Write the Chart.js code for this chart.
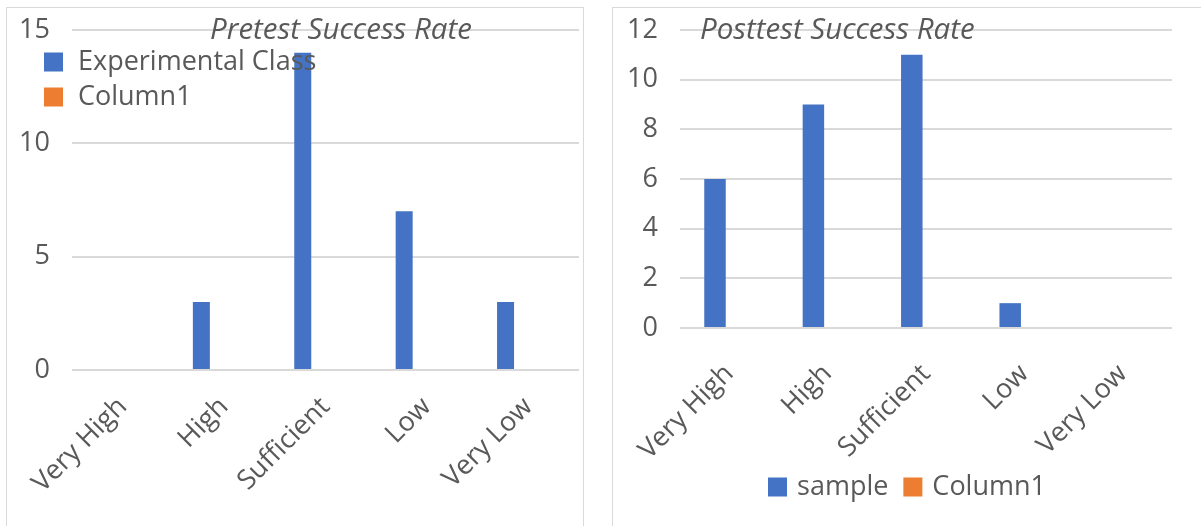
<!DOCTYPE html>
<html>
<head>
<meta charset="utf-8">
<script src="https://cdn.jsdelivr.net/npm/chart.js@4.4.1/dist/chart.umd.min.js"></script>
<style>
  html, body { margin: 0; padding: 0; background: #ffffff; overflow: hidden; }
  body { width: 1201px; height: 526px; position: relative; }
  .frame { position: absolute; border: 1px solid #d9d9d9; background: #fff; }
  #leftFrame { left: 6px; top: 7px; width: 576px; height: 530px; }
  #rightFrame { left: 612px; top: 7px; width: 600px; height: 530px; }
  canvas { position: absolute; left: 0; top: 0; }
</style>
</head>
<body>
<div class="frame" id="leftFrame"><canvas id="pretest" width="576" height="518"></canvas></div>
<div class="frame" id="rightFrame"><canvas id="posttest" width="588" height="518"></canvas></div>
<script>
// Score categories shared by both charts
const categories = ['Very High', 'High', 'Sufficient', 'Low', 'Very Low'];

// Pretest: number of students per category
const pretestExperimental = [0, 3, 14, 7, 3];
const pretestColumn1 = [null, null, null, null, null];
const pretestTicks = [0, 5, 10, 15];

// Posttest: number of students per category
const posttestSample = [6, 9, 11, 1, 0];
const posttestColumn1 = [null, null, null, null, null];
const posttestTicks = [0, 2, 4, 6, 8, 10, 12];

const BLUE = '#4472C4';
const ORANGE = '#ED7D31';
const GRID = '#d9d9d9';
const TEXT = '#595959';
const FONT = '"Open Sans", "Noto Sans", sans-serif';
const TICK_SIZE = 27;

// Draws the italic in-plot title and the custom legend on top of the bars
const decorPlugin = {
  id: 'decor',
  afterDraw(chart, args, opts) {
    const ctx = chart.ctx;
    ctx.save();
    ctx.fillStyle = TEXT;
    ctx.textBaseline = 'middle';
    ctx.font = 'italic ' + opts.titleSize + 'px ' + FONT;
    ctx.textAlign = opts.titleAlign;
    ctx.fillText(opts.title, opts.titleX, opts.titleY);

    ctx.font = opts.legendSize + 'px ' + FONT;
    ctx.textAlign = 'left';
    const ds = chart.data.datasets;
    const box = opts.box;
    if (opts.legendLayout === 'vertical') {
      ds.forEach((d, i) => {
        const y = opts.legendY + i * opts.legendStep;
        ctx.fillStyle = d.backgroundColor;
        ctx.fillRect(opts.legendX, y - box / 2, box, box);
        ctx.fillStyle = TEXT;
        ctx.fillText(d.label, opts.legendX + box + opts.legendGap, y);
      });
    } else {
      const widths = ds.map(d => box + opts.legendGap + ctx.measureText(d.label).width);
      const total = widths.reduce((a, b) => a + b, 0) + opts.itemGap * (ds.length - 1);
      let x = opts.legendX - total / 2;
      ds.forEach((d, i) => {
        ctx.fillStyle = d.backgroundColor;
        ctx.fillRect(x, opts.legendY - box / 2, box, box);
        ctx.fillStyle = TEXT;
        ctx.fillText(d.label, x + box + opts.legendGap, opts.legendY);
        x += widths[i] + opts.itemGap;
      });
    }
    ctx.restore();
  }
};

function makeChart(id, cfg) {
  const tickList = cfg.ticks;
  return new Chart(document.getElementById(id), {
    type: 'bar',
    data: {
      labels: categories,
      datasets: [
        { label: cfg.names[0], data: cfg.series[0], backgroundColor: BLUE,
          categoryPercentage: cfg.catPct, barPercentage: cfg.barPct },
        { label: cfg.names[1], data: cfg.series[1], backgroundColor: ORANGE,
          categoryPercentage: cfg.catPct, barPercentage: cfg.barPct }
      ]
    },
    plugins: [decorPlugin],
    options: {
      responsive: false,
      animation: false,
      layout: { padding: cfg.padding },
      plugins: {
        legend: { display: false },
        title: { display: false },
        tooltip: { enabled: false },
        decor: cfg.decor
      },
      scales: {
        x: {
          grid: { display: false },
          border: { display: false },
          ticks: {
            color: TEXT, font: { family: FONT, size: TICK_SIZE },
            minRotation: 45, maxRotation: 45, padding: cfg.xPad, autoSkip: false
          },
          afterFit(scale) {
            scale.height = cfg.xHeight;
            scale.paddingLeft = 0;
            scale.paddingRight = 0;
          }
        },
        y: {
          min: tickList[0],
          max: tickList[tickList.length - 1],
          afterBuildTicks(scale) { scale.ticks = tickList.map(v => ({ value: v })); },
          grid: { color: GRID, lineWidth: 2, drawTicks: false },
          border: { display: false },
          ticks: { color: TEXT, font: { family: FONT, size: TICK_SIZE }, padding: 22 },
          afterFit(scale) {
            scale.width = cfg.yWidth;
            scale.paddingTop = 0;
            scale.paddingBottom = 0;
          }
        }
      }
    }
  });
}

makeChart('pretest', {
  names: ['Experimental Class', 'Column1'],
  series: [pretestExperimental, pretestColumn1],
  ticks: pretestTicks,
  catPct: 0.897, barPct: 0.374,
  padding: { top: 22, right: 4, left: 0, bottom: 0 },
  yWidth: 65, xHeight: 156, xPad: 13,
  decor: {
    title: 'Pretest Success Rate', titleSize: 29.5, titleAlign: 'center', titleX: 334, titleY: 23,
    legendLayout: 'vertical', legendX: 37, legendY: 54, legendStep: 35,
    legendSize: 27, box: 19, legendGap: 15, itemGap: 0
  }
});

makeChart('posttest', {
  names: ['sample', 'Column1'],
  series: [posttestSample, posttestColumn1],
  ticks: posttestTicks,
  catPct: 0.577, barPct: 0.757,
  padding: { top: 22, right: 29, left: 0, bottom: 0 },
  yWidth: 67, xHeight: 198, xPad: 22,
  decor: {
    title: 'Posttest Success Rate', titleSize: 29.5, titleAlign: 'left', titleX: 87, titleY: 23,
    legendLayout: 'horizontal', legendX: 294, legendY: 479, legendStep: 0,
    legendSize: 27, box: 19, legendGap: 10, itemGap: 15
  }
});
</script>
</body>
</html>
